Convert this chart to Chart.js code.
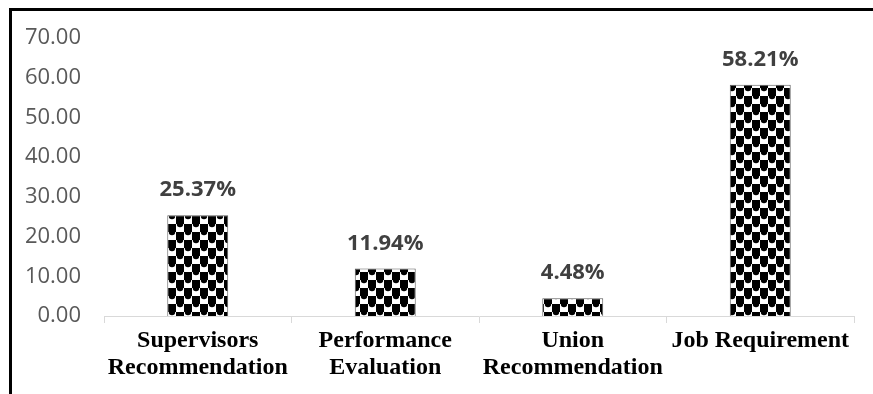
<!DOCTYPE html>
<html>
<head>
<meta charset="utf-8">
<script src="https://cdn.jsdelivr.net/npm/chart.js@4/dist/chart.umd.min.js"></script>
<style>
  html, body { margin: 0; padding: 0; background: #fff; }
  canvas { display: block; }
</style>
</head>
<body>
<canvas id="chart" width="873" height="394"></canvas>
<script>
// Categories (multi-line axis labels) and their shares in percent
const categories = [
  ['Supervisors', 'Recommendation'],
  ['Performance', 'Evaluation'],
  ['Union', 'Recommendation'],
  ['Job Requirement']
];
const shares = [25.37, 11.94, 4.48, 58.21];
const valueLabels = ['25.37%', '11.94%', '4.48%', '58.21%'];
const yTicks = [0, 10, 20, 30, 40, 50, 60, 70];

// Black-and-white checker fill; black cells have rounded lower edges
function makePattern() {
  const t = document.createElement('canvas');
  t.width = 16; t.height = 16;
  const c = t.getContext('2d');
  c.fillStyle = '#fff';
  c.fillRect(0, 0, 16, 16);
  c.fillStyle = '#000';
  c.fillRect(8, 0, 8, 8);
  c.fillRect(0, 8, 8, 8);
  c.beginPath(); c.arc(12, 8, 3.2, 0, Math.PI); c.fill();
  c.beginPath(); c.arc(4, 0, 3.2, 0, Math.PI); c.fill();
  const ctx = document.getElementById('chart').getContext('2d');
  return ctx.createPattern(t, 'repeat');
}

// Outer frame: top and left edges
const framePlugin = {
  id: 'frame',
  afterDraw(chart) {
    const ctx = chart.ctx;
    ctx.save();
    ctx.fillStyle = '#000';
    ctx.fillRect(9, 8, chart.width - 9, 3);
    ctx.fillRect(9, 8, 3, chart.height - 8);
    ctx.restore();
  }
};

// Percentage labels above each bar
const valueLabelPlugin = {
  id: 'valueLabels',
  afterDatasetsDraw(chart) {
    const ctx = chart.ctx;
    const meta = chart.getDatasetMeta(0);
    ctx.save();
    ctx.font = 'bold 22px "Open Sans"';
    ctx.fillStyle = '#404040';
    ctx.textAlign = 'center';
    ctx.textBaseline = 'alphabetic';
    meta.data.forEach((bar, i) => {
      ctx.fillText(valueLabels[i], bar.x, bar.y - 19);
    });
    ctx.restore();
  }
};

new Chart(document.getElementById('chart'), {
  type: 'bar',
  data: {
    labels: categories,
    datasets: [{
      data: shares,
      backgroundColor: makePattern(),
      borderColor: '#5a5a5a',
      borderWidth: 1,
      barPercentage: 0.325,
      categoryPercentage: 1
    }]
  },
  options: {
    responsive: false,
    devicePixelRatio: 1,
    animation: false,
    layout: { padding: { top: 38, right: 19, left: 0, bottom: 0 } },
    plugins: {
      legend: { display: false },
      tooltip: { enabled: false }
    },
    scales: {
      x: {
        grid: {
          display: true,
          drawOnChartArea: false,
          drawTicks: true,
          tickLength: 7,
          color: '#d9d9d9'
        },
        border: { display: true, color: '#d9d9d9', width: 1 },
        ticks: {
          padding: 5,
          color: '#000',
          maxRotation: 0,
          autoSkip: false,
          font: { family: '"Liberation Serif", "Times New Roman", serif', size: 24, weight: 'bold', lineHeight: 1.1 }
        },
        afterFit(s) { s.height = 78; }
      },
      y: {
        min: 0,
        max: 70,
        afterBuildTicks(s) { s.ticks = yTicks.map(v => ({ value: v })); },
        grid: { display: false, drawTicks: false },
        border: { display: false },
        ticks: {
          padding: 23,
          color: '#595959',
          font: { family: '"Open Sans"', size: 22 },
          callback: v => Number(v).toFixed(2)
        },
        afterFit(s) { s.width = 104; }
      }
    }
  },
  plugins: [framePlugin, valueLabelPlugin]
});
</script>
</body>
</html>
